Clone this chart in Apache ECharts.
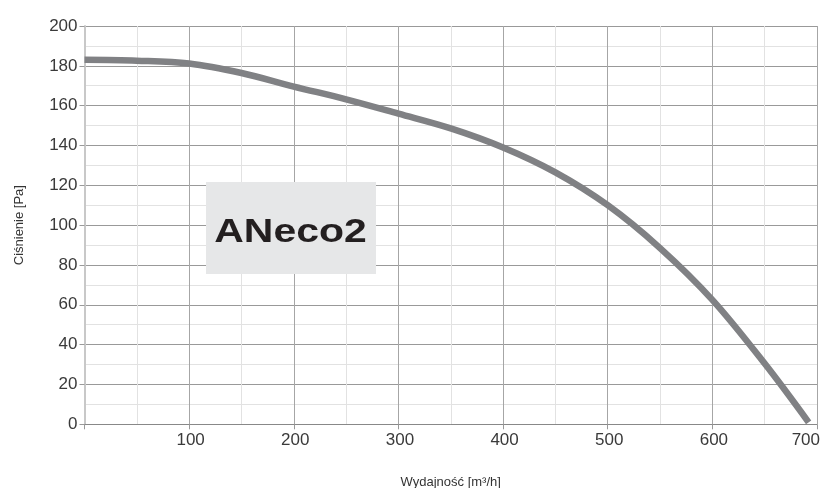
<!DOCTYPE html>
<html>
<head>
<meta charset="utf-8">
<script src="https://cdn.jsdelivr.net/npm/echarts@6/dist/echarts.min.js"></script>
<style>
html,body{margin:0;padding:0;background:#fff;}
#chart{width:825px;height:488px;}
</style>
</head>
<body>
<div id="chart"></div>
<script>
const flowValues = [0, 50, 100, 150, 200, 250, 300, 350, 400, 450, 500, 550, 600, 650, 692];
const pressureValues = [183, 182.6, 181.2, 176.4, 169.6, 163.2, 156, 148.6, 139, 126.5, 110, 88.5, 62.5, 30.5, 1];
const xAxisTitle = 'Wydajność [m³/h]';
const yAxisTitle = 'Ciśnienie [Pa]';
const modelLabel = 'ANeco2';

const chart = echarts.init(document.getElementById('chart'));
const font = '"Liberation Sans", Arial, Helvetica, sans-serif';
chart.setOption({
  animation: false,
  grid: {left: 84.5, right: 8, top: 26, bottom: 63.7, containLabel: false, outerBoundsMode: 'none'},
  xAxis: {
    type: 'value', min: 0, max: 700, interval: 100,
    name: xAxisTitle, nameLocation: 'middle', nameGap: 52,
    nameTextStyle: {fontSize: 13, color: '#333', fontFamily: font},
    axisLine: {show: true, lineStyle: {color: '#888', width: 1}},
    axisTick: {show: true, length: 5, lineStyle: {color: '#999'}},
    axisLabel: {fontSize: 17, color: '#3a3a3a', fontFamily: font, margin: 8,
      alignMaxLabel: 'right', padding: [0, -3, 0, 0],
      formatter: v => v === 0 ? '' : String(v)},
    splitLine: {show: true, lineStyle: {color: '#a6a6a6', width: 1}},
    minorTick: {show: false, splitNumber: 2},
    minorSplitLine: {show: true, lineStyle: {color: '#e2e2e2', width: 1}}
  },
  yAxis: {
    type: 'value', min: 0, max: 200, interval: 20,
    name: yAxisTitle, nameLocation: 'middle', nameGap: 59, nameRotate: 90,
    nameTextStyle: {fontSize: 13, color: '#333', fontFamily: font},
    axisLine: {show: true, lineStyle: {color: '#c8c8c8', width: 2}},
    axisTick: {show: true, length: 5, lineStyle: {color: '#999'}},
    axisLabel: {fontSize: 17, color: '#3a3a3a', fontFamily: font, margin: 7},
    splitLine: {show: true, lineStyle: {color: '#999', width: 1}},
    minorTick: {show: false, splitNumber: 2},
    minorSplitLine: {show: true, lineStyle: {color: '#e2e2e2', width: 1}}
  },
  series: [{
    type: 'line', smooth: 0.35, symbol: 'none',
    data: flowValues.map((x, i) => [x, pressureValues[i]]),
    lineStyle: {color: '#808184', width: 6.5, cap: 'butt'},
    z: 5
  }],
  graphic: [
    {type: 'rect', z: 10, shape: {x: 206, y: 182, width: 170, height: 92}, style: {fill: '#e6e7e8'}},
    {type: 'text', z: 11, x: 290.5, y: 233, scaleX: 1.24, style: {text: modelLabel, fill: '#231f20',
      fontSize: 33, fontWeight: 'bold', fontFamily: font, align: 'center', verticalAlign: 'middle'}}
  ]
});
</script>
</body>
</html>
